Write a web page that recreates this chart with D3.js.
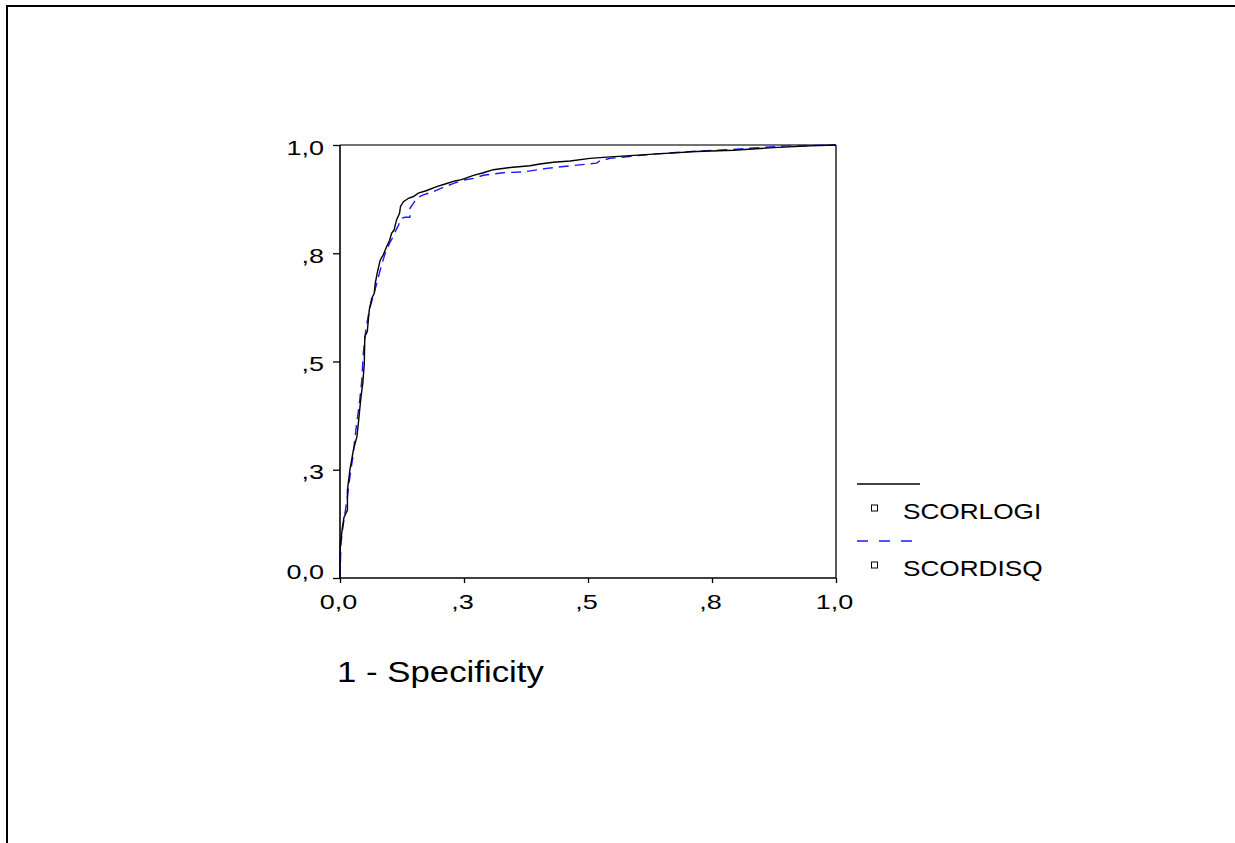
<!DOCTYPE html>
<html>
<head>
<meta charset="utf-8">
<script src="https://cdn.jsdelivr.net/npm/d3@7"></script>
<style>
  html, body { margin: 0; padding: 0; background: #fff; overflow: hidden; }
  svg { display: block; }
  text { font-family: Arial, "Liberation Sans", sans-serif; fill: #000; }
</style>
</head>
<body>
<div id="chart"></div>
<script>
// ROC-Kurven (1 - Spezifität, Sensitivität)
const logiFpr = [0, 0, 0.005, 0.008, 0.015, 0.015, 0.02, 0.027, 0.034, 0.037, 0.042, 0.046, 0.049, 0.05, 0.055, 0.059, 0.064, 0.069, 0.071, 0.075,
  0.081, 0.087, 0.094, 0.10, 0.104, 0.109, 0.114, 0.12, 0.122, 0.128, 0.138, 0.148, 0.158, 0.175, 0.195, 0.212, 0.232, 0.245, 0.269, 0.289,
  0.309, 0.343, 0.383, 0.403, 0.43, 0.464, 0.504, 0.538, 0.632, 0.719, 0.793, 0.874, 0.948, 1];
const logiTpr = [0, 0.07, 0.118, 0.14, 0.157, 0.203, 0.25, 0.296, 0.326, 0.357, 0.415, 0.45, 0.496, 0.557, 0.569, 0.619, 0.646, 0.657, 0.68, 0.704,
  0.734, 0.746, 0.765, 0.78, 0.796, 0.804, 0.827, 0.842, 0.858, 0.869, 0.877, 0.881, 0.889, 0.895, 0.904, 0.91, 0.917, 0.92, 0.93, 0.936,
  0.943, 0.948, 0.952, 0.956, 0.96, 0.963, 0.969, 0.972, 0.979, 0.985, 0.988, 0.994, 0.998, 1];

const disqFpr = [0, 0.002, 0.005, 0.01, 0.015, 0.02, 0.026, 0.032, 0.039, 0.044, 0.047, 0.052, 0.059, 0.067, 0.074, 0.081,
  0.091, 0.10, 0.107, 0.113, 0.118, 0.124, 0.131, 0.141, 0.141, 0.148, 0.154, 0.168, 0.188, 0.208, 0.228, 0.249, 0.269, 0.289,
  0.329, 0.37, 0.417, 0.464, 0.517, 0.524, 0.544, 0.632, 0.719, 0.793, 0.9, 1];
const disqTpr = [0, 0.08, 0.11, 0.15, 0.188, 0.234, 0.28, 0.342, 0.403, 0.457, 0.519, 0.573, 0.619, 0.65, 0.68, 0.711,
  0.75, 0.773, 0.788, 0.804, 0.815, 0.831, 0.833, 0.833, 0.854, 0.865, 0.877, 0.885, 0.892, 0.902, 0.911, 0.919, 0.923, 0.93,
  0.936, 0.938, 0.946, 0.952, 0.958, 0.963, 0.969, 0.979, 0.986, 0.99, 0.998, 1];

const tickValues = [0, 0.25, 0.5, 0.75, 1];
const tickLabels = ['0,0', ',3', ',5', ',8', '1,0'];

const seriesNames = ['SCORLOGI', 'SCORDISQ'];
const seriesColors = ['#000000', '#1a1aff'];

const width = 1235;
const height = 843;
const plot = { left: 340, top: 145, right: 836, bottom: 578 };

const svg = d3.select('#chart')
  .append('svg')
  .attr('width', width)
  .attr('height', height);

svg.append('rect')
  .attr('width', width)
  .attr('height', height)
  .attr('fill', '#fff');

// äußerer Rahmen: nur oben und links sichtbar
svg.append('path')
  .attr('d', `M7,${height} V6 H${width}`)
  .attr('fill', 'none')
  .attr('stroke', '#000')
  .attr('stroke-width', 2);

const x = d3.scaleLinear().domain([0, 1]).range([plot.left, plot.right]);
const y = d3.scaleLinear().domain([0, 1]).range([plot.bottom, plot.top]);

const fmt = v => tickLabels[tickValues.indexOf(v)];

// Schrift im Original horizontal gedehnt
function stretchText(sel, dx, dy, sx) {
  sel.selectAll('.tick text')
    .attr('x', 0)
    .attr('dy', null)
    .attr('y', 0)
    .attr('transform', d => `translate(${dx},${typeof dy === 'function' ? dy(d) : dy}) scale(${sx},1)`);
}

const yAxis = svg.append('g')
  .attr('transform', `translate(${plot.left},0)`)
  .call(d3.axisLeft(y).tickValues(tickValues).tickFormat(fmt).tickSize(7).tickSizeOuter(0));
yAxis.selectAll('text').attr('font-size', 20).attr('text-anchor', 'end');
// unterstes Label sitzt im Original etwas höher
stretchText(yAxis, -16, d => d === 0 ? 0 : 9, 1.35);

const xAxis = svg.append('g')
  .attr('transform', `translate(0,${plot.bottom})`)
  .call(d3.axisBottom(x).tickValues(tickValues).tickFormat(fmt).tickSize(5).tickSizeOuter(0));
xAxis.selectAll('text').attr('font-size', 20).attr('text-anchor', 'middle');
stretchText(xAxis, -2, 31, 1.35);

svg.selectAll('.domain').remove();
svg.selectAll('.tick line').attr('stroke', '#000').attr('stroke-width', 1.3);

// Plotrahmen
svg.append('line')
  .attr('x1', x(0)).attr('x2', x(1)).attr('y1', y(1)).attr('y2', y(1))
  .attr('stroke', '#444').attr('stroke-width', 1.6);
svg.append('line')
  .attr('x1', x(1)).attr('x2', x(1)).attr('y1', y(1)).attr('y2', y(0))
  .attr('stroke', '#000').attr('stroke-width', 1.3);
svg.append('line')
  .attr('x1', x(0)).attr('x2', x(0)).attr('y1', y(1)).attr('y2', y(0))
  .attr('stroke', '#000').attr('stroke-width', 1.6);
svg.append('line')
  .attr('x1', x(0)).attr('x2', x(1)).attr('y1', y(0)).attr('y2', y(0))
  .attr('stroke', '#000').attr('stroke-width', 1.6);

const line = d3.line()
  .x(d => x(d[0]))
  .y(d => y(d[1]));

svg.append('path')
  .datum(disqFpr.map((v, i) => [v, disqTpr[i]]))
  .attr('d', line)
  .attr('fill', 'none')
  .attr('stroke', seriesColors[1])
  .attr('stroke-width', 1.4)
  .attr('stroke-dasharray', '10,6');

svg.append('path')
  .datum(logiFpr.map((v, i) => [v, logiTpr[i]]))
  .attr('d', line)
  .attr('fill', 'none')
  .attr('stroke', seriesColors[0])
  .attr('stroke-width', 1.4);

// Achsentitel
svg.append('text')
  .attr('transform', 'translate(337,682) scale(1.2,1)')
  .attr('font-size', 29)
  .text('1 - Specificity');

// Legende
const legendY = [484, 541];
seriesNames.forEach((name, i) => {
  const g = svg.append('g').attr('transform', `translate(0,${legendY[i]})`);
  g.append('line')
    .attr('x1', 857).attr('x2', i === 0 ? 920 : 916)
    .attr('stroke', seriesColors[i])
    .attr('stroke-width', 1.3)
    .attr('stroke-dasharray', i === 0 ? null : '11,11');
  g.append('rect')
    .attr('x', 871.5).attr('y', 21)
    .attr('width', 6).attr('height', 6)
    .attr('fill', '#fff')
    .attr('stroke', '#000')
    .attr('stroke-width', 1);
  g.append('text')
    .attr('transform', 'translate(903,35) scale(1.19,1)')
    .attr('font-size', 22)
    .text(name);
});
</script>
</body>
</html>
